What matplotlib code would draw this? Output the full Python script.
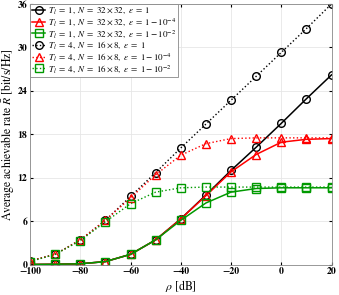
import numpy as np
import matplotlib.pyplot as plt

plt.rcParams['font.family'] = 'serif'
plt.rcParams['font.serif'] = ['STIXGeneral', 'Liberation Serif', 'DejaVu Serif']
plt.rcParams['mathtext.fontset'] = 'stix'

# SNR in dB
rho = [-100, -90, -80, -70, -60, -50, -40, -30, -20, -10, 0, 10, 20]

# T_l = 1, N = 32x32
r1_eps1 = [0.0, 0.03, 0.1, 0.4, 1.4, 3.4, 6.3, 9.6, 13.0, 16.2, 19.5, 22.9, 26.2]
r1_eps4 = [0.0, 0.03, 0.1, 0.4, 1.4, 3.4, 6.3, 9.5, 12.8, 15.2, 16.9, 17.3, 17.4]
r1_eps2 = [0.0, 0.03, 0.1, 0.4, 1.4, 3.4, 6.1, 8.5, 10.0, 10.5, 10.6, 10.6, 10.6]

# T_l = 4, N = 16x8
r4_eps1 = [0.5, 1.4, 3.4, 6.1, 9.4, 12.7, 16.1, 19.4, 22.7, 26.0, 29.3, 32.6, 36.0]
r4_eps4 = [0.5, 1.4, 3.4, 6.1, 9.2, 12.4, 15.1, 16.7, 17.4, 17.5, 17.5, 17.5, 17.5]
r4_eps2 = [0.4, 1.4, 3.3, 5.9, 8.4, 10.0, 10.6, 10.7, 10.7, 10.7, 10.7, 10.7, 10.7]

labels = [
    r'$T_l\;=\;1,\ N\;=\;32\times 32,\ \varepsilon\;=\;1$',
    r'$T_l\;=\;1,\ N\;=\;32\times 32,\ \varepsilon\;=\;1-10^{-4}$',
    r'$T_l\;=\;1,\ N\;=\;32\times 32,\ \varepsilon\;=\;1-10^{-2}$',
    r'$T_l\;=\;4,\ N\;=\;16\times 8,\ \varepsilon\;=\;1$',
    r'$T_l\;=\;4,\ N\;=\;16\times 8,\ \varepsilon\;=\;1-10^{-4}$',
    r'$T_l\;=\;4,\ N\;=\;16\times 8,\ \varepsilon\;=\;1-10^{-2}$',
]

fig = plt.figure(figsize=(3.39, 2.95), dpi=100)
ax = fig.add_axes([30/339, 30.5/295, 301.5/339, 260.5/295])

ms = 5.5
green = '#009900'
ax.plot(rho, r1_eps1, '-', color='k', marker='o', mfc='none', ms=ms, lw=1.1, label=labels[0])
ax.plot(rho, r1_eps4, '-', color='r', marker='^', mfc='none', ms=ms, lw=1.1, label=labels[1])
ax.plot(rho, r1_eps2, '-', color=green, marker='s', mfc='none', ms=ms, lw=1.1, label=labels[2])
ax.plot(rho, r4_eps1, ':', color='k', marker='o', mfc='none', ms=ms, lw=1.0, label=labels[3])
ax.plot(rho, r4_eps4, ':', color='r', marker='^', mfc='none', ms=ms, lw=1.0, label=labels[4])
ax.plot(rho, r4_eps2, ':', color=green, marker='s', mfc='none', ms=ms, lw=1.0, label=labels[5])

ax.set_xlim(-100, 20)
ax.set_ylim(0, 36)
ax.set_xticks(np.arange(-100, 21, 20))
ax.set_yticks(np.arange(0, 37, 6))
ax.grid(True, color='#e6e6e6', lw=0.6)
ax.set_axisbelow(True)
ax.tick_params(direction='in', labelsize=7, length=2.5, pad=2, top=True, right=True)
for t in ax.get_xticklabels() + ax.get_yticklabels():
    t.set_fontweight('bold')
for s in ax.spines.values():
    s.set_color('#888888')
    s.set_linewidth(0.6)

ax.set_xlabel(r'$\rho$ [dB]', fontsize=8.5, labelpad=1)
ax.set_ylabel(r'Average achievable rate $\bar{R}$ [bit/s/Hz]', fontsize=8.5, labelpad=1)

leg = ax.legend(loc='upper left', fontsize=6.5, handlelength=1.5, handletextpad=0.3,
                borderpad=0.2, labelspacing=0.0, borderaxespad=0.0,
                fancybox=False, edgecolor='#888888', framealpha=1)
leg.get_frame().set_linewidth(0.6)

plt.savefig('out.png', dpi=100)
